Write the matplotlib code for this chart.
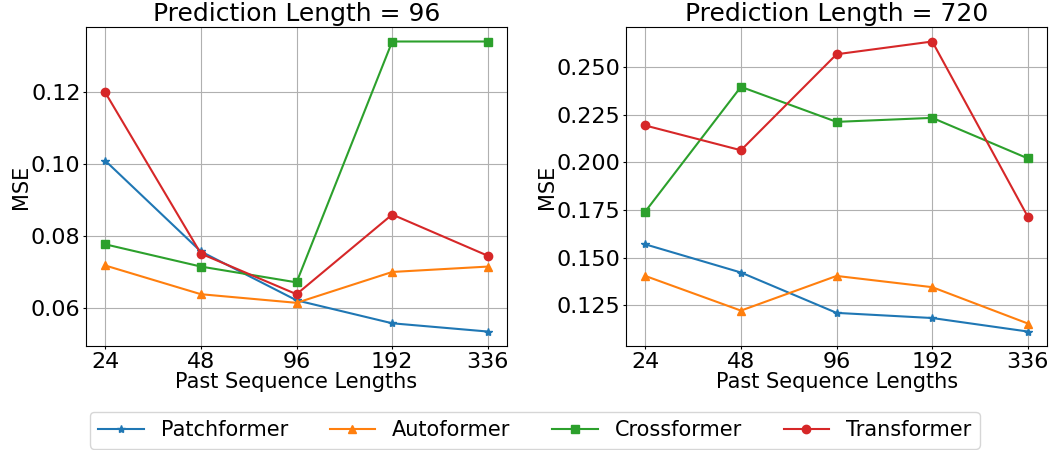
import matplotlib
matplotlib.use("Agg")
import matplotlib.pyplot as plt

# Past sequence lengths (categorical x axis)
seq_lengths = ["24", "48", "96", "192", "336"]
models = ["Patchformer", "Autoformer", "Crossformer", "Transformer"]

# MSE, prediction length = 96
mse_96_patch = [0.101, 0.0757, 0.0621, 0.0557, 0.0534]
mse_96_auto = [0.0718, 0.0638, 0.0614, 0.0700, 0.0715]
mse_96_cross = [0.0777, 0.0715, 0.0671, 0.1342, 0.1342]
mse_96_trans = [0.1200, 0.0751, 0.0638, 0.0860, 0.0745]

# MSE, prediction length = 720
mse_720_patch = [0.1570, 0.1422, 0.1210, 0.1183, 0.1112]
mse_720_auto = [0.1404, 0.1222, 0.1404, 0.1345, 0.1154]
mse_720_cross = [0.1742, 0.2397, 0.2213, 0.2234, 0.2021]
mse_720_trans = [0.2194, 0.2064, 0.2568, 0.2635, 0.1714]

colors = ["#1f77b4", "#ff7f0e", "#2ca02c", "#d62728"]
markers = ["*", "^", "s", "o"]

fig, (ax1, ax2) = plt.subplots(1, 2, figsize=(10.63, 4.5), dpi=100)
fig.subplots_adjust(left=0.081, right=0.985, bottom=0.231, top=0.94, wspace=0.283)

panels = [
    (ax1, "Prediction Length = 96", [mse_96_patch, mse_96_auto, mse_96_cross, mse_96_trans]),
    (ax2, "Prediction Length = 720", [mse_720_patch, mse_720_auto, mse_720_cross, mse_720_trans]),
]

x = list(range(len(seq_lengths)))
for ax, title, series in panels:
    for name, vals, c, m in zip(models, series, colors, markers):
        ax.plot(x, vals, color=c, marker=m, markersize=6, linewidth=1.5, label=name)
    ax.set_xticks(x)
    ax.set_xticklabels(seq_lengths)
    ax.set_title(title, fontsize=18, pad=4)
    ax.set_xlabel("Past Sequence Lengths", fontsize=15, labelpad=0)
    ax.set_ylabel("MSE", fontsize=15, labelpad=0)
    ax.tick_params(labelsize=16, length=2.5, pad=1.5)
    ax.grid(True)

ax2.yaxis.set_major_formatter(matplotlib.ticker.FormatStrFormatter("%.3f"))

handles, labels = ax1.get_legend_handles_labels()
fig.legend(handles, labels, loc="lower center", ncol=4, fontsize=15,
           handlelength=2.2, bbox_to_anchor=(0.503, -0.02))

plt.savefig("out.png", dpi=100)
plt.close()
